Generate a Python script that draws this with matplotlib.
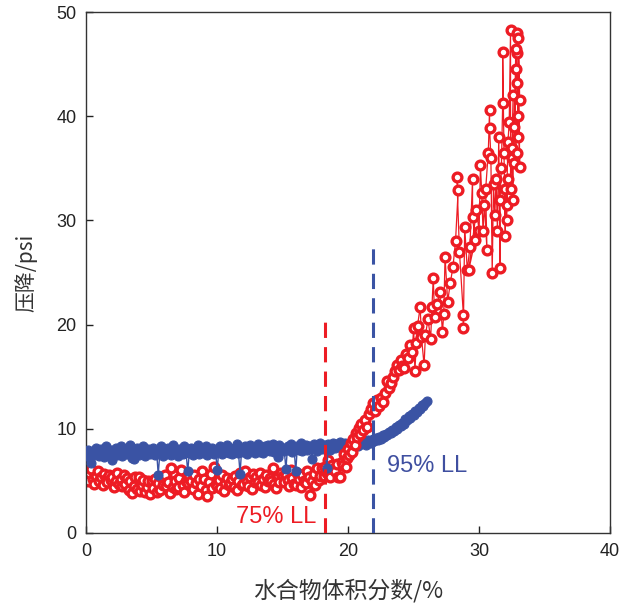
import matplotlib
matplotlib.use("Agg")
import matplotlib.pyplot as plt

# ---------------- data ----------------
blue_x = [0.0, 0.125, 0.25, 0.375, 0.5, 0.625, 0.75, 0.875,
          1.0, 1.125, 1.25, 1.375, 1.5, 1.625, 1.75, 1.875,
          2.0, 2.125, 2.25, 2.375, 2.5, 2.625, 2.75, 2.875,
          3.0, 3.125, 3.25, 3.375, 3.5, 3.625, 3.75, 3.875,
          4.0, 4.125, 4.25, 4.375, 4.5, 4.625, 4.75, 4.875,
          5.0, 5.125, 5.25, 5.375, 5.5, 5.625, 5.75, 5.875,
          6.0, 6.125, 6.25, 6.375, 6.5, 6.625, 6.75, 6.875,
          7.0, 7.125, 7.25, 7.375, 7.5, 7.625, 7.75, 7.875,
          8.0, 8.125, 8.25, 8.375, 8.5, 8.625, 8.75, 8.875,
          9.0, 9.125, 9.25, 9.375, 9.5, 9.625, 9.75, 9.875,
          10.0, 10.125, 10.25, 10.375, 10.5, 10.625, 10.75, 10.875,
          11.0, 11.125, 11.25, 11.375, 11.5, 11.625, 11.75, 11.875,
          12.0, 12.125, 12.25, 12.375, 12.5, 12.625, 12.75, 12.875,
          13.0, 13.125, 13.25, 13.375, 13.5, 13.625, 13.75, 13.875,
          14.0, 14.125, 14.25, 14.375, 14.5, 14.625, 14.75, 14.875,
          15.0, 15.125, 15.25, 15.375, 15.5, 15.625, 15.75, 15.875,
          16.0, 16.125, 16.25, 16.375, 16.5, 16.625, 16.75, 16.875,
          17.0, 17.125, 17.25, 17.375, 17.5, 17.625, 17.75, 17.875,
          18.0, 18.125, 18.25, 18.375, 18.5, 18.625, 18.75, 18.875,
          19.0, 19.125, 19.25, 19.375, 19.5, 19.625, 19.75, 19.875,
          20.0, 20.125, 20.25, 20.375, 20.5, 20.625, 20.75, 20.875,
          21.0, 21.125, 21.25, 21.375, 21.5, 21.625, 21.75, 21.875,
          22.0, 22.125, 22.25, 22.375, 22.5, 22.625, 22.75, 22.875,
          23.0, 23.125, 23.25, 23.375, 23.5, 23.625, 23.75, 23.875,
          24.0, 24.125, 24.25, 24.375, 24.5, 24.625, 24.75, 24.875,
          25.0, 25.125, 25.25, 25.375, 25.5, 25.625, 25.75, 25.875,
          26.0]
blue_y = [7.6, 8.0, 7.3, 6.7, 7.9, 7.5, 8.2, 7.7,
          7.4, 8.1, 7.8, 7.3, 8.3, 7.6, 7.9, 8.0,
          7.0, 7.7, 8.2, 7.5, 7.9, 8.3, 7.4, 7.8,
          8.1, 7.6, 7.9, 8.4, 7.2, 7.1, 7.8, 8.2,
          7.5, 8.0, 7.7, 8.3, 7.4, 7.9, 8.1, 7.6,
          7.8, 8.2, 7.5, 7.9, 5.6, 7.7, 8.3, 7.4,
          8.0, 7.6, 8.2, 7.8, 7.5, 8.4, 7.7, 8.0,
          7.4, 8.1, 7.9, 7.6, 8.3, 7.8, 5.9, 7.7,
          8.2, 7.5, 8.0, 7.8, 8.4, 7.6, 7.9, 8.1,
          7.7, 8.3, 7.5, 8.0, 7.8, 8.2, 7.6, 8.0,
          6.0, 7.9, 8.3, 7.6, 8.1, 7.8, 8.4, 7.7,
          8.0, 7.6, 8.2, 7.9, 8.5, 7.7, 5.7, 8.1,
          7.8, 8.3, 7.6, 8.0, 8.4, 7.9, 8.2, 7.7,
          8.1, 8.5, 7.8, 8.0, 7.7, 8.3, 8.0, 8.4,
          7.9, 8.2, 8.5, 7.8, 8.1, 7.3, 8.4, 8.0,
          8.2, 7.9, 6.1, 8.3, 8.0, 8.5, 7.8, 8.1,
          5.9, 8.3, 8.0, 8.6, 7.9, 8.2, 8.4, 8.0,
          8.3, 8.1, 7.1, 8.5, 8.2, 7.9, 8.4, 8.6,
          8.1, 8.4, 8.2, 6.2, 8.5, 8.0, 8.3, 8.6,
          8.2, 8.5, 8.3, 8.7, 8.1, 8.4, 8.6, 8.3,
          8.5, 8.2, 8.7, 8.4, 8.6, 8.8, 8.3, 8.6,
          8.5, 8.8, 8.6, 8.4, 8.9, 8.7, 8.6, 9.0,
          8.8, 9.1, 8.9, 9.2, 9.0, 9.4, 9.2, 9.5,
          9.4, 9.7, 9.6, 9.9, 9.8, 10.2, 10.0, 10.4,
          10.3, 10.6, 10.5, 10.9, 10.8, 11.2, 11.0, 11.4,
          11.3, 11.7, 11.6, 12.0, 11.9, 12.3, 12.2, 12.5,
          12.7]

red_low_x = [0.0, 0.125, 0.25, 0.375, 0.5, 0.625, 0.75, 0.875,
             1.0, 1.125, 1.25, 1.375, 1.5, 1.625, 1.75, 1.875,
             2.0, 2.125, 2.25, 2.375, 2.5, 2.625, 2.75, 2.875,
             3.0, 3.125, 3.25, 3.375, 3.5, 3.625, 3.75, 3.875,
             4.0, 4.125, 4.25, 4.375, 4.5, 4.625, 4.75, 4.875,
             5.0, 5.125, 5.25, 5.375, 5.5, 5.625, 5.75, 5.875,
             6.0, 6.125, 6.25, 6.375, 6.5, 6.625, 6.75, 6.875,
             7.0, 7.125, 7.25, 7.375, 7.5, 7.625, 7.75, 7.875,
             8.0, 8.125, 8.25, 8.375, 8.5, 8.625, 8.75, 8.875,
             9.0, 9.125, 9.25, 9.375, 9.5, 9.625, 9.75, 9.875,
             10.0, 10.125, 10.25, 10.375, 10.5, 10.625, 10.75, 10.875,
             11.0, 11.125, 11.25, 11.375, 11.5, 11.625, 11.75, 11.875,
             12.0, 12.125, 12.25, 12.375, 12.5, 12.625, 12.75, 12.875,
             13.0, 13.125, 13.25, 13.375, 13.5, 13.625, 13.75, 13.875,
             14.0, 14.125, 14.25, 14.375, 14.5, 14.625, 14.75, 14.875,
             15.0, 15.125, 15.25, 15.375, 15.5, 15.625, 15.75, 15.875,
             16.0, 16.125, 16.25, 16.375, 16.5, 16.625, 16.75, 16.875,
             17.0, 17.125, 17.25, 17.375, 17.5, 17.625, 17.75, 17.875,
             18.0, 18.125, 18.25, 18.375, 18.5, 18.625, 18.75, 18.875,
             19.0, 19.125, 19.25]
red_low_y = [5.3, 5.0, 5.8, 6.1, 5.2, 4.7, 5.5, 5.9,
             5.0, 5.4, 4.6, 5.7, 5.2, 4.9, 5.6, 5.1,
             5.4, 4.4, 5.0, 5.8, 4.7, 5.2, 4.5, 5.6,
             4.7, 5.3, 4.1, 5.0, 3.8, 4.5, 5.4, 4.2,
             5.4, 4.0, 4.6, 5.1, 3.9, 4.4, 5.0, 3.7,
             5.0, 4.3, 5.2, 3.9, 4.8, 4.1, 5.4, 4.6,
             5.6, 4.5, 4.9, 3.8, 6.2, 4.4, 5.0, 4.2,
             4.4, 5.3, 6.0, 4.6, 3.9, 5.0, 4.8, 5.5,
             5.0, 4.2, 5.6, 4.8, 3.7, 5.2, 4.5, 5.9,
             5.2, 4.1, 3.5, 4.9, 5.7, 4.3, 6.3, 4.7,
             4.5, 5.1, 4.3, 5.6, 4.0, 4.8, 5.3, 4.6,
             4.8, 5.2, 4.4, 5.5, 4.1, 5.0, 5.8, 4.6,
             4.7, 5.9, 5.0, 4.5, 5.4, 4.2, 5.7, 4.9,
             5.4, 4.9, 5.8, 4.6, 5.2, 4.4, 5.6, 5.0,
             5.3, 5.0, 6.2, 4.7, 4.3, 5.5, 4.9, 5.8,
             5.5, 4.9, 5.6, 5.1, 4.5, 6.0, 5.3, 4.7,
             4.6, 5.8, 5.2, 4.4, 5.6, 5.0, 4.8, 5.9,
             5.4, 3.6, 5.0, 5.7, 4.6, 6.2, 5.1, 5.5,
             6.2, 5.5, 6.3, 5.8, 7.0, 5.4, 6.5, 6.1,
             5.9, 6.6, 5.4]

red_high_x = [19.4, 19.5, 19.6, 19.7, 19.8, 19.9, 20.0, 20.1, 20.2, 20.3, 20.4, 20.5, 20.6, 20.7,
              20.8, 20.9, 21.0, 21.15, 21.3, 21.45, 21.6, 21.75, 21.9, 22.05, 22.2, 22.35, 22.5,
              22.65, 22.8, 23.0, 23.15, 23.3, 23.45, 23.6, 23.75, 23.9, 24.0, 24.15, 24.3, 24.45,
              24.6, 24.75, 24.9, 25.0, 25.1, 25.2, 25.3, 25.5, 25.6, 25.8, 25.9, 26.1, 26.3, 26.4,
              26.5, 26.6, 26.8, 27.0, 27.2, 27.3, 27.4, 27.6, 27.8, 28.0, 28.2, 28.4, 28.3, 28.5,
              28.8, 28.8, 28.9, 29.1, 29.3, 29.5, 29.5, 29.7, 29.2, 29.8, 30.0, 30.1, 30.2, 30.3,
              30.4, 30.6, 30.5, 30.7, 30.8, 30.8, 30.9, 31.0, 31.1, 31.2, 31.3, 31.4, 31.5, 31.6,
              31.6, 31.7, 31.8, 31.8, 31.9, 32.0, 32.0, 32.1, 32.2, 32.1, 32.2, 32.3, 32.4, 32.4,
              32.5, 32.6, 32.6, 32.5, 32.7, 32.8, 32.9, 32.9, 33.0, 32.9, 33.1, 33.0, 33.1, 33.0,
              32.8, 32.7, 32.9]
red_high_y = [5.4, 6.8, 6.5, 7.6, 6.3, 7.2, 8.1, 7.5, 8.6, 7.8, 9.0, 8.4, 9.6, 9.2,
              10.1, 9.5, 10.5, 9.9, 10.8, 10.2, 11.4, 11.9, 12.5, 11.7, 12.8, 12.2, 13.0,
              12.6, 13.4, 14.6, 13.9, 14.4, 15.0, 15.5, 16.1, 15.6, 16.6, 16.0, 15.8, 17.2,
              16.8, 18.0, 17.4, 19.7, 15.5, 18.2, 19.9, 21.7, 18.8, 16.1, 19.0, 20.5, 18.6, 21.7,
              24.5, 20.7, 22.0, 23.1, 19.3, 21.0, 26.5, 22.2, 24.0, 25.5, 28.0, 32.9, 34.2, 27.0,
              20.9, 19.7, 29.4, 25.2, 27.5, 34.0, 30.3, 28.1, 25.2, 31.0, 29.0, 35.3, 32.6, 29.0,
              31.5, 27.2, 33.0, 36.5, 40.6, 38.9, 36.0, 25.0, 33.5, 30.5, 34.0, 29.0, 38.0, 25.4,
              32.0, 35.0, 41.3, 46.2, 36.5, 28.5, 33.0, 30.0, 34.0, 31.5, 37.5, 39.5, 48.3, 33.0,
              37.0, 42.0, 32.0, 36.0, 35.5, 44.5, 48.0, 46.1, 38.0, 43.2, 41.6, 47.5, 35.1, 40.0,
              46.5, 39.0, 36.5]

ll75_x = 18.2
ll75_top = 20.8
ll95_x = 21.9
ll95_top = 27.8

x_ticks = [0, 10, 20, 30, 40]
y_ticks = [0, 10, 20, 30, 40, 50]

RED = "#ED1C24"
BLUE = "#3A53A4"

plt.rcParams['font.family'] = ['Liberation Sans', 'Noto Sans CJK SC', 'DejaVu Sans']

fig = plt.figure(figsize=(6.2, 6.07), dpi=100)
ax = fig.add_axes([0.139, 0.122, 0.845, 0.858])

red_kw = dict(color=RED, lw=0.9, marker='o', ms=6.3, mfc='white', mec=RED, mew=2.4)
ax.plot(red_low_x, red_low_y, zorder=2, **red_kw)
ax.plot(blue_x, blue_y, color=BLUE, lw=1.0, marker='o', ms=6.5, mfc=BLUE, mec=BLUE, mew=0.8, zorder=3)
ax.plot(red_high_x, red_high_y, zorder=4, **red_kw)

ax.plot([ll75_x, ll75_x], [0, ll75_top], color=RED, lw=2.2, ls=(0, (5, 3)), zorder=5)
ax.plot([ll95_x, ll95_x], [0, ll95_top], color=BLUE, lw=2.2, ls=(0, (5, 3)), zorder=5)

ax.text(11.45, 1.0, "75% LL", color=RED, fontsize=17, ha='left', va='baseline', zorder=6)
ax.text(23.0, 5.85, "95% LL", color="#3F4FA0", fontsize=17, ha='left', va='baseline', zorder=6)

ax.set_xlim(0, 40)
ax.set_ylim(0, 50)
ax.set_xticks(x_ticks)
ax.set_yticks(y_ticks)
ax.tick_params(direction='in', length=5, width=1, labelsize=13, pad=7, colors='#222222')
for s in ax.spines.values():
    s.set_linewidth(1.0)
    s.set_color('#333333')

ax.set_xlabel("水合物体积分数/%", fontsize=16.5, family=['Noto Sans CJK SC', 'DejaVu Sans'], labelpad=14, color='#333333')
ax.set_ylabel("压降/psi", fontsize=15, family=['Noto Sans CJK SC', 'DejaVu Sans'], labelpad=14, color='#333333')

fig.savefig("out.png", dpi=100)
